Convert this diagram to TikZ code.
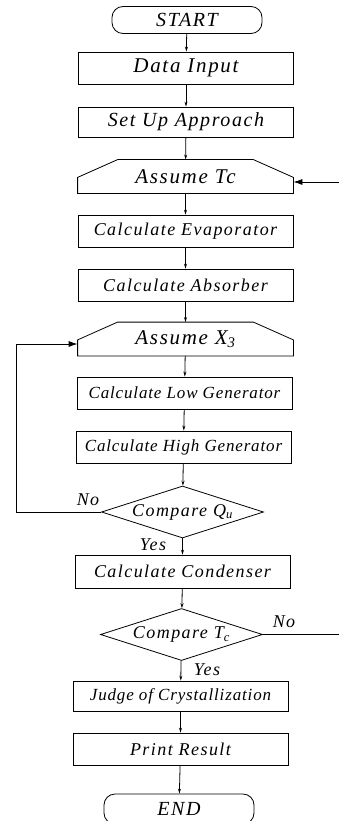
\documentclass[tikz,border=0pt]{standalone}
\usepackage{fontspec}
\setmainfont{Liberation Serif}[LetterSpace=8]
\usetikzlibrary{shapes.geometric,arrows.meta}

\tikzset{
  box/.style={draw,rectangle,minimum width=215pt,minimum height=32pt,inner sep=0pt,font=\fontsize{18}{21}\selectfont\itshape},
  narrow/.style={font=\fontsize{17}{20}\selectfont\itshape\addfontfeature{LetterSpace=5}},
  term/.style={draw,rectangle,rounded corners=11pt,minimum width=150pt,minimum height=27pt,inner sep=0pt,font=\fontsize{20}{23}\selectfont\itshape},
  assume/.style={rectangle,minimum width=215pt,minimum height=33pt,inner sep=0pt,font=\fontsize{21}{24}\selectfont\itshape},
  test/.style={draw,diamond,aspect=3.2,minimum width=162pt,minimum height=52pt,inner sep=0pt,font=\fontsize{18}{21}\selectfont\itshape},
  lbl/.style={font=\fontsize{18}{21}\selectfont\itshape},
  flow/.style={-{Stealth[length=5pt,width=3pt]}},
  back/.style={-{Latex[length=9pt,width=6pt]}}
}

\begin{document}
\begin{tikzpicture}[x=1pt,y=-1pt,thick]
\useasboundingbox (0,0) rectangle (339,821);

\node[term] (start) at (187,20) {START};
\node[box,font=\fontsize{21}{24}\selectfont\itshape] (data) at (186,68) {Data Input};
\node[box,minimum height=30pt,font=\fontsize{20}{23}\selectfont\itshape] (setup) at (186,122) {Set Up Approach};
\node[assume] (tc) at (185.5,176.5) {Assume Tc};
\node[box] (evap) at (185.5,231) {Calculate Evaporator};
\node[box] (absorb) at (185.5,285) {Calculate Absorber};
\node[assume] (xthree) at (185.5,339) {Assume X\textsubscript{3}};
\node[box,narrow] (lowgen) at (184.5,393) {Calculate Low Generator};
\node[box,narrow] (highgen) at (183.5,447) {Calculate High Generator};
\node[test] (cmpq) at (182.5,512) {Compare Q\textsubscript{u}};
\node[box,minimum height=33pt] (cond) at (182.5,571.5) {Calculate Condenser};
\node[test] (cmpt) at (181.5,634.5) {Compare T\textsubscript{c}};
\node[box,minimum height=30pt,narrow] (judge) at (180.5,696) {Judge of Crystallization};
\node[box] (print) at (180.5,749) {Print Result};
\node[term,minimum height=30pt] (end) at (179,809) {END};

% chamfered tops of the two assume boxes
\foreach \n in {tc,xthree}
  \draw ([yshift=16pt]\n.south west) -- ([xshift=40pt]\n.north west)
    -- ([xshift=-40pt]\n.north east) -- ([yshift=16pt]\n.south east)
    -- (\n.south east) -- (\n.south west) -- cycle;

% main flow
\draw[flow] (start) -- (data);
\draw[flow] (data) -- (setup);
\draw[flow] (setup) -- (tc);
\draw[flow] (tc) -- (evap);
\draw[flow] (evap) -- (absorb);
\draw[flow] (absorb) -- (xthree);
\draw[flow] (xthree) -- (lowgen);
\draw[flow] (lowgen) -- (highgen);
\draw[flow] (highgen) -- (cmpq);
\draw[flow] (cmpq) -- (cond);
\draw[flow] (cond) -- (cmpt);
\draw[flow] (cmpt) -- (judge);
\draw[flow] (judge) -- (print);
\draw[flow] (print) -- (end);

% loops
\coordinate (qleft) at (16,512);
\coordinate (tright) at (339,634.5);
\coordinate (tcin) at (339,182);
\draw[back] (cmpq.west) -- (qleft) |- ([yshift=-5pt]xthree.west);
\draw (cmpt.east) -- (tright);
\draw[back] (tcin) -- (tcin -| tc.east);

\node[lbl] (qno) at (88,500) {No};
\node[lbl] (qyes) at (153,545) {Yes};
\node[lbl] (tno) at (284,622) {No};
\node[lbl] (tyes) at (207,670) {Yes};
\end{tikzpicture}
\end{document}
